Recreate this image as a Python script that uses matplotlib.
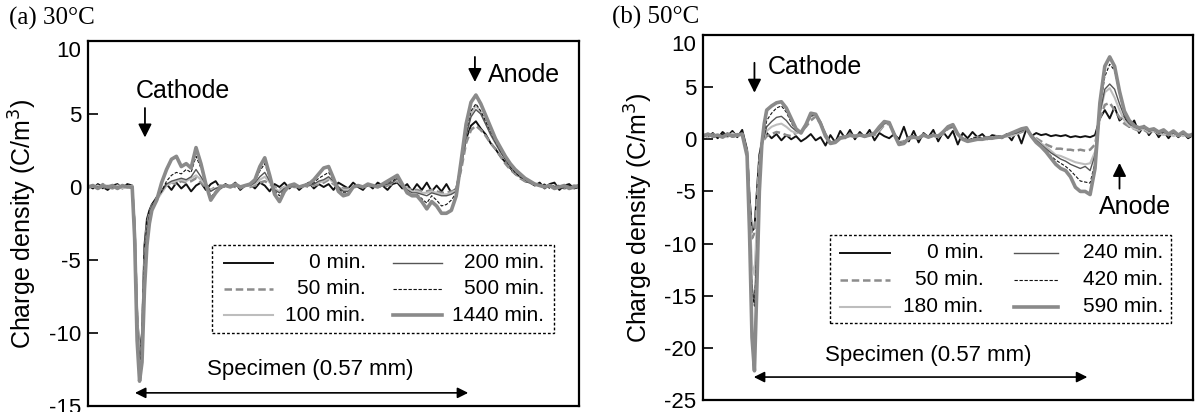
import numpy as np
import matplotlib
matplotlib.use("Agg")
import matplotlib.pyplot as plt
from matplotlib.patches import Rectangle

plt.rcParams['font.family'] = ['Liberation Sans', 'DejaVu Sans']
plt.rcParams['axes.unicode_minus'] = False

# position across the specimen (arbitrary units, 0-100 across the plot)
x_pos = [0, 1, 2, 3, 4, 5, 6, 7, 8, 9,
         9.5, 10, 10.5, 11, 11.5, 12, 12.5] + list(range(13, 101))

# ---- (a) 30 C, charge density (C/m3)
q30_0 = [0.1, -0.1, 0.2, 0.0, -0.2, 0.1, 0.2, -0.1, 0.2, 0.1,
         -2.5, -8.5, -11.5, -10.0, -4.0, -2.2, -1.6,
         -1.2, -0.7, -0.3, 0.2, -0.2, 0.3, -0.1, 0.2, -0.3, 0.1,
         0.3, -0.2, 0.2, 0.4, -0.1, 0.2, 0.0, 0.3, -0.2, 0.1,
         0.2, -0.1, 0.3, 0.1, -0.3, 0.2, 0.0, 0.3, -0.1, 0.2,
         -0.2, 0.1, 0.3, -0.1, 0.2, 0.0, 0.2, -0.2, 0.3, 0.1,
         -0.1, 0.3, 0.0, -0.2, 0.2, -0.1, 0.3, 0.1, -0.2, 0.2,
         0.3, -0.1, 0.2, -0.3, 0.2, -0.2, 0.3, -0.3, 0.1, -0.3,
         0.2, -0.4, -0.1, 1.5, 3.3, 4.2, 4.5, 4.0, 3.6, 3.0,
         2.6, 2.1, 1.7, 1.3, 0.9, 0.7, 0.4, 0.3, 0.1, 0.3,
         -0.1, 0.2, 0.3, -0.2, 0.1, 0.2, -0.1, 0.0]
q30_50 = [0.0, 0.1, -0.1, 0.2, 0.0, -0.1, 0.1, 0.0, 0.1, 0.0,
          -3.0, -9.0, -11.8, -10.5, -4.8, -2.6, -1.8,
          -1.3, -0.8, -0.3, 0.2, 0.3, 0.2, 0.4, 0.3, 0.4, 0.6,
          0.3, 0.0, -0.2, 0.0, 0.1, 0.0, 0.1, 0.0, -0.1, 0.1,
          0.0, 0.1, 0.3, 0.4, 0.2, 0.0, -0.2, 0.0, 0.1, 0.0,
          0.0, 0.1, 0.0, 0.1, 0.2, 0.3, 0.5, 0.2, 0.0, -0.1,
          -0.1, 0.0, 0.1, 0.0, 0.1, 0.0, 0.1, 0.0, 0.1, 0.2,
          0.4, 0.1, -0.1, -0.2, -0.2, -0.3, -0.3, -0.2, -0.3, -0.4,
          -0.4, -0.3, -0.2, 1.2, 3.0, 3.9, 4.2, 3.9, 3.5, 3.0,
          2.6, 2.1, 1.6, 1.2, 0.9, 0.6, 0.4, 0.3, 0.2, 0.1,
          0.0, 0.1, 0.0, 0.1, -0.1, 0.0, 0.1, 0.0]
q30_100 = [0.1, 0.0, 0.1, -0.1, 0.1, 0.0, 0.1, -0.1, 0.0, 0.1,
           -2.8, -8.8, -11.6, -10.8, -5.5, -3.0, -2.0,
           -1.4, -0.9, -0.4, 0.1, 0.3, 0.4, 0.5, 0.4, 0.6, 0.8,
           0.5, 0.1, -0.2, -0.1, 0.0, 0.1, 0.0, 0.1, 0.0, 0.1,
           0.1, 0.2, 0.5, 0.7, 0.3, -0.1, -0.3, 0.0, 0.0, 0.1,
           0.0, 0.1, 0.1, 0.2, 0.3, 0.4, 0.6, 0.3, 0.0, -0.2,
           -0.2, 0.0, 0.1, 0.0, 0.1, 0.1, 0.0, 0.1, 0.2, 0.3,
           0.5, 0.1, -0.1, -0.3, -0.3, -0.4, -0.4, -0.3, -0.4, -0.5,
           -0.5, -0.4, -0.2, 1.5, 3.6, 5.0, 5.6, 5.1, 4.4, 3.6,
           3.0, 2.4, 1.9, 1.4, 1.0, 0.7, 0.5, 0.3, 0.2, 0.1,
           0.1, 0.0, 0.1, 0.0, 0.1, 0.0, 0.0, 0.1]
q30_200 = [0.0, 0.1, 0.0, 0.1, -0.1, 0.1, 0.0, 0.1, 0.0, 0.0,
           -3.0, -9.2, -12.0, -10.5, -5.0, -2.8, -1.9,
           -1.3, -0.8, -0.3, 0.2, 0.4, 0.5, 0.6, 0.5, 0.7, 1.2,
           0.7, 0.2, -0.3, -0.1, 0.0, 0.1, 0.0, 0.1, 0.0, 0.1,
           0.1, 0.3, 0.7, 1.0, 0.4, -0.2, -0.4, -0.1, 0.0, 0.1,
           0.0, 0.1, 0.1, 0.2, 0.4, 0.5, 0.7, 0.4, 0.0, -0.3,
           -0.3, 0.0, 0.1, 0.0, 0.1, 0.1, 0.0, 0.1, 0.2, 0.3,
           0.6, 0.1, -0.2, -0.4, -0.4, -0.5, -0.6, -0.4, -0.5, -0.6,
           -0.6, -0.5, -0.3, 1.4, 3.5, 4.8, 5.3, 5.0, 4.3, 3.6,
           3.0, 2.4, 1.9, 1.4, 1.0, 0.7, 0.5, 0.3, 0.2, 0.1,
           0.0, 0.1, 0.0, 0.1, 0.0, 0.1, 0.0, 0.0]
q30_500 = [-0.1, 0.1, 0.0, -0.1, 0.1, 0.0, -0.1, 0.1, 0.0, -0.1,
           -3.2, -9.5, -12.2, -11.0, -5.5, -3.0, -2.0,
           -1.3, -0.8, -0.3, 0.4, 0.8, 1.0, 0.9, 1.2, 1.0, 2.1,
           1.3, 0.3, -0.7, -0.3, 0.0, 0.1, 0.0, 0.1, 0.0, 0.1,
           0.1, 0.4, 1.1, 1.6, 0.6, -0.3, -0.6, -0.2, 0.1, 0.1,
           0.0, 0.1, 0.1, 0.3, 0.6, 0.8, 1.0, 0.5, -0.1, -0.4,
           -0.4, 0.0, 0.1, 0.0, 0.1, 0.1, 0.0, 0.2, 0.3, 0.4,
           0.7, 0.1, -0.3, -0.6, -0.5, -0.8, -1.1, -0.6, -0.9, -1.3,
           -1.2, -0.9, -0.4, 1.5, 3.8, 5.2, 5.7, 5.2, 4.5, 3.8,
           3.1, 2.5, 1.9, 1.4, 1.0, 0.7, 0.5, 0.3, 0.2, 0.1,
           0.2, -0.1, 0.1, 0.0, -0.1, 0.1, 0.0, -0.1]
q30_1440 = [0.0, 0.1, -0.1, 0.1, 0.0, 0.1, -0.1, 0.1, 0.0, 0.0,
            -3.5, -10.5, -13.3, -12.0, -7.0, -4.0, -2.5,
            -1.6, -0.9, 0.3, 1.2, 1.9, 2.1, 1.4, 1.6, 1.3, 2.7,
            1.6, 0.2, -0.9, -0.4, 0.0, 0.1, 0.0, 0.2, 0.0, 0.1,
            0.2, 0.5, 1.4, 2.0, 0.8, -0.5, -1.0, -0.3, 0.1, 0.2,
            0.0, 0.1, 0.2, 0.5, 0.9, 1.3, 1.4, 0.6, -0.3, -0.6,
            -0.5, 0.0, 0.1, 0.0, 0.2, 0.1, 0.0, 0.2, 0.4, 0.6,
            0.8, 0.2, -0.4, -0.6, -0.6, -1.0, -1.5, -1.0, -1.3, -1.8,
            -1.8, -1.6, -0.6, 1.8, 4.3, 5.8, 6.3, 5.7, 4.9, 4.1,
            3.3, 2.7, 2.1, 1.6, 1.2, 0.9, 0.6, 0.4, 0.2, 0.1,
            0.0, 0.1, -0.1, 0.0, 0.1, -0.1, 0.0, 0.1]

# ---- (b) 50 C
q50_0 = [0.5, 0.2, 0.6, 0.1, 0.7, 0.3, 0.8, 0.2, 0.9, -1.0,
         -5.5, -8.8, -8.5, -5.0, -1.5, -0.3, 0.2,
         0.6, 0.1, 0.5, -0.1, 0.4, 0.0, 0.3, -0.2, 0.1, 0.5,
         -0.1, 0.2, -0.6, 0.4, -0.3, 0.8, 0.1, 0.9, 0.0, 0.7,
         0.2, 0.9, -0.1, 0.6, 0.3, 0.1, 0.5, 0.0, 1.2, -0.2,
         0.8, -0.3, 0.6, 0.2, 0.9, -0.2, 0.7, 0.1, 0.8, -0.5,
         0.6, 0.1, 0.7, 0.2, 0.5, 0.0, 0.4, 0.3, 0.1, 0.5,
         -0.1, 0.8, -0.4, 1.0, 0.3, 0.6, 0.4, 0.5, 0.3, 0.4,
         0.3, 0.4, 0.2, 0.3, 0.2, 0.3, 0.2, 0.4, 2.0, 2.8,
         2.0, 3.1, 1.8, 2.2, 1.2, 1.8, 0.6, 1.3, 0.4, 1.0,
         0.2, 0.8, 0.1, 0.7, 0.2, 0.6, 0.1, 0.4]
q50_50 = [0.3, 0.5, 0.2, 0.4, 0.3, 0.5, 0.2, 0.5, 0.4, -1.2,
          -6.0, -9.5, -9.0, -5.5, -2.0, -0.5, 0.0,
          0.3, 0.5, 0.7, 0.6, 0.4, 0.3, 0.6, 0.8, 1.2, 1.8,
          2.2, 1.5, 0.5, -0.3, -0.2, 0.2, 0.3, 0.5, 0.2, 0.4,
          0.3, 0.5, 0.4, 0.8, 1.4, 1.5, 0.5, -0.3, -0.2, 0.2,
          0.3, 0.1, 0.5, 0.2, 0.4, 0.3, 0.5, 1.0, 1.2, 0.5,
          0.1, -0.1, 0.1, 0.2, 0.1, 0.2, 0.2, 0.3, 0.2, 0.3,
          0.4, 0.5, 0.7, 0.9, 0.4, 0.1, -0.2, -0.5, -0.7, -0.9,
          -0.9, -1.0, -1.0, -1.1, -1.0, -1.1, -1.0, -0.5, 2.0, 3.3,
          3.5, 2.8, 2.1, 1.5, 1.2, 1.0, 0.8, 0.9, 0.6, 0.8,
          0.5, 0.6, 0.4, 0.6, 0.3, 0.5, 0.3, 0.4]
q50_180 = [0.4, 0.2, 0.5, 0.3, 0.4, 0.2, 0.6, 0.3, 0.5, -1.3,
           -7.0, -12.0, -13.0, -8.0, -2.5, -0.5, 0.2,
           0.8, 1.2, 1.4, 1.5, 1.2, 0.8, 0.6, 0.8, 1.5, 2.2,
           2.3, 1.6, 0.4, -0.4, -0.3, 0.1, 0.2, 0.3, 0.2, 0.4,
           0.2, 0.4, 0.5, 0.9, 1.5, 1.6, 0.6, -0.4, -0.3, 0.1,
           0.2, 0.1, 0.4, 0.2, 0.3, 0.2, 0.6, 1.1, 1.3, 0.5,
           0.0, -0.2, 0.0, 0.1, 0.0, 0.1, 0.2, 0.1, 0.2, 0.3,
           0.3, 0.5, 0.8, 1.0, 0.4, 0.0, -0.4, -0.7, -1.1, -1.5,
           -1.6, -1.8, -2.0, -2.2, -2.3, -2.4, -2.3, -1.2, 2.5, 4.5,
           4.9, 4.0, 2.8, 1.8, 1.3, 1.0, 0.9, 1.0, 0.7, 0.8,
           0.6, 0.4, 0.6, 0.3, 0.5, 0.3, 0.5, 0.3]
q50_240 = [0.3, 0.5, 0.2, 0.4, 0.3, 0.6, 0.2, 0.4, 0.5, -1.4,
           -7.5, -14.0, -15.8, -10.0, -3.0, -0.5, 0.3,
           1.2, 1.7, 2.1, 2.2, 1.8, 1.2, 0.8, 0.7, 1.4, 2.2,
           2.4, 1.7, 0.5, -0.4, -0.3, 0.1, 0.2, 0.4, 0.2, 0.4,
           0.2, 0.4, 0.5, 1.0, 1.5, 1.6, 0.6, -0.4, -0.3, 0.1,
           0.2, 0.1, 0.4, 0.2, 0.3, 0.3, 0.6, 1.1, 1.2, 0.4,
           0.0, -0.2, 0.0, 0.1, 0.0, 0.1, 0.1, 0.2, 0.2, 0.4,
           0.5, 0.6, 0.8, 1.0, 0.4, -0.1, -0.5, -0.9, -1.3, -1.6,
           -1.9, -2.1, -2.4, -2.6, -2.8, -2.6, -3.0, -1.5, 2.5, 4.8,
           5.3, 4.8, 3.4, 2.2, 1.5, 1.2, 1.0, 1.1, 0.8, 0.9,
           0.6, 0.7, 0.5, 0.6, 0.4, 0.5, 0.3, 0.4]
q50_420 = [0.4, 0.3, 0.5, 0.2, 0.5, 0.3, 0.4, 0.3, 0.6, -1.5,
           -8.0, -14.5, -16.0, -11.0, -3.5, -0.6, 0.4,
           1.8, 2.5, 3.0, 3.2, 2.6, 1.6, 0.8, 0.6, 1.3, 2.3,
           2.4, 1.6, 0.4, -0.4, -0.3, 0.2, 0.3, 0.5, 0.3, 0.5,
           0.3, 0.5, 0.6, 1.1, 1.6, 1.7, 0.6, -0.4, -0.3, 0.2,
           0.3, 0.1, 0.5, 0.3, 0.4, 0.3, 0.7, 1.2, 1.3, 0.5,
           0.1, -0.1, 0.1, 0.2, 0.1, 0.2, 0.2, 0.3, 0.3, 0.4,
           0.5, 0.7, 0.9, 1.1, 0.4, -0.2, -0.6, -1.1, -1.6, -2.0,
           -2.3, -2.6, -3.0, -3.5, -4.0, -4.1, -4.2, -2.2, 3.0, 6.0,
           7.2, 6.6, 4.3, 2.6, 1.7, 1.3, 1.0, 1.1, 0.8, 0.9,
           0.6, 0.8, 0.5, 0.7, 0.4, 0.6, 0.3, 0.5]
q50_590 = [0.3, 0.5, 0.3, 0.4, 0.2, 0.5, 0.3, 0.4, 0.5, -1.6,
           -9.0, -19.0, -22.2, -14.0, -5.0, -0.5, 1.5,
           2.8, 3.2, 3.5, 3.6, 3.0, 2.0, 1.0, 0.6, 1.4, 2.5,
           2.4, 1.5, 0.3, -0.4, -0.3, 0.1, 0.2, 0.4, 0.3, 0.4,
           0.3, 0.4, 0.6, 1.2, 1.7, 1.6, 0.5, -0.5, -0.4, 0.1,
           0.2, 0.1, 0.4, 0.2, 0.4, 0.3, 0.7, 1.2, 1.4, 0.5,
           0.0, -0.2, -0.1, 0.0, 0.0, 0.1, 0.1, 0.2, 0.2, 0.4,
           0.6, 0.8, 1.0, 1.1, 0.3, -0.3, -0.7, -1.2, -1.8, -2.4,
           -2.8, -3.0, -3.6, -4.6, -5.0, -5.0, -5.3, -2.8, 3.5, 7.0,
           7.9, 7.0, 4.6, 2.7, 1.8, 1.3, 1.1, 1.2, 0.9, 1.0,
           0.7, 0.9, 0.5, 0.8, 0.4, 0.7, 0.3, 0.5]

labels_30 = ['0 min.', '50 min.', '100 min.', '200 min.', '500 min.', '1440 min.']
labels_50 = ['0 min.', '50 min.', '180 min.', '240 min.', '420 min.', '590 min.']

# line styles for the six ageing times (same order in both panels)
styles = [
    dict(color='#111111', lw=1.4, ls='-'),
    dict(color='#8c8c8c', lw=1.8, ls=(0, (3, 1.5))),
    dict(color='#bdbdbd', lw=1.5, ls='-'),
    dict(color='#555555', lw=1.0, ls='-'),
    dict(color='#111111', lw=0.8, ls=(0, (3, 1.5))),
    dict(color='#8a8a8a', lw=2.6, ls='-'),
]


def draw_legend(ax, labels, box, rows, col_lines, col_right):
    x0, y0, x1, y1 = box
    ax.add_patch(Rectangle((x0, y0), x1 - x0, y1 - y0, transform=ax.transAxes,
                           fill=False, lw=1.0, ls=(0, (2, 1.5)), color='k'))
    for i, (lab, st) in enumerate(zip(labels, styles)):
        col = i // 3
        row = rows[i % 3]
        xa, xb = col_lines[col]
        ax.plot([xa, xb], [row, row], transform=ax.transAxes, **st)
        ax.text(col_right[col], row, lab, transform=ax.transAxes,
                ha='right', va='center', fontsize=15)


def panel(ax, series, ylim, yticks, label_x):
    for q, st in zip(series, styles):
        ax.plot(x_pos, q, **st)
    ax.set_xlim(0, 100)
    ax.set_ylim(*ylim)
    ax.set_xticks([])
    ax.set_yticks(yticks)
    ax.tick_params(axis='y', direction='in', length=7, width=1.2,
                   labelsize=16, pad=5)
    ax.get_yticklabels()[-1].set_va('top')
    for s in ax.spines.values():
        s.set_linewidth(1.6)
    ax.set_ylabel('Charge density (C/m$^3$)', fontsize=18)
    ax.yaxis.set_label_coords(label_x, 0.5)


fig = plt.figure(figsize=(11.97, 4.12), dpi=100)
ax1 = fig.add_axes([88 / 1197, 1 - 406 / 412, 491 / 1197, 365 / 412])
ax2 = fig.add_axes([703 / 1197, 1 - 400 / 412, 490 / 1197, 365 / 412])

panel(ax1, [q30_0, q30_50, q30_100, q30_200, q30_500, q30_1440],
      (-15, 10), [-15, -10, -5, 0, 5, 10], -0.100)
panel(ax2, [q50_0, q50_50, q50_180, q50_240, q50_420, q50_590],
      (-25, 10), [-25, -20, -15, -10, -5, 0, 5, 10], -0.098)

fig.text(9 / 1197, 1 - 7 / 412, '(a) 30°C', family='Liberation Serif',
         fontsize=18, va='top')
fig.text(612 / 1197, 1 - 6 / 412, '(b) 50°C', family='Liberation Serif',
         fontsize=18, va='top')

arrow = dict(arrowstyle='-|>', color='k', lw=1.3, mutation_scale=20)
dbl = dict(arrowstyle='<|-|>', color='k', lw=1.2, mutation_scale=16)

# (a) annotations
ax1.text(9.8, 6.6, 'Cathode', fontsize=18, va='center')
ax1.annotate('', xy=(11.6, 3.2), xytext=(11.6, 5.6), arrowprops=arrow)
ax1.text(81.5, 7.7, 'Anode', fontsize=18, va='center')
ax1.annotate('', xy=(78.8, 7.0), xytext=(78.8, 9.1), arrowprops=arrow)
ax1.annotate('', xy=(9.0, -14.1), xytext=(78.0, -14.1), arrowprops=dbl)
ax1.text(45.3, -12.5, 'Specimen (0.57 mm)', fontsize=16, ha='center', va='center')
draw_legend(ax1, labels_30, (0.253, 0.200, 0.949, 0.441),
            [0.392, 0.321, 0.249], [(0.277, 0.376), (0.621, 0.721)],
            [0.566, 0.929])

# (b) annotations
ax2.text(13.3, 6.9, 'Cathode', fontsize=18, va='center')
ax2.annotate('', xy=(10.5, 4.2), xytext=(10.5, 7.6), arrowprops=arrow)
ax2.text(88.2, -6.5, 'Anode', fontsize=18, ha='center', va='center')
ax2.annotate('', xy=(85.0, -2.0), xytext=(85.0, -5.0), arrowprops=arrow)
ax2.annotate('', xy=(9.8, -22.8), xytext=(79.0, -22.8), arrowprops=dbl)
ax2.text(45.9, -20.7, 'Specimen (0.57 mm)', fontsize=16, ha='center', va='center')
draw_legend(ax2, labels_50, (0.259, 0.211, 0.955, 0.452),
            [0.403, 0.329, 0.255], [(0.280, 0.382), (0.635, 0.724)],
            [0.573, 0.939])

fig.savefig('out.png', dpi=100)
